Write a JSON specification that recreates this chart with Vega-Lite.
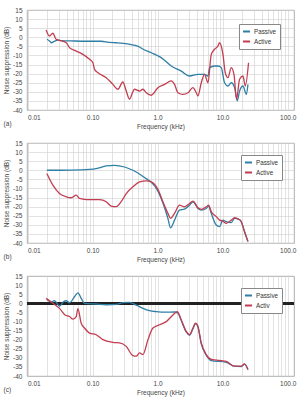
{
  "$schema": "https://vega.github.io/schema/vega-lite/v6.json",
  "background": "white",
  "padding": {"left": 3, "top": 6, "right": 0, "bottom": 0},
  "bounds": "flush",
  "spacing": 33,
  "resolve": {"legend": {"color": "independent"}},
  "config": {
    "font": "Liberation Sans",
    "view": {"stroke": "#999", "strokeWidth": 0.8},
    "axis": {"labelFontSize": 6.5, "titleFontSize": 6.5, "titleFontWeight": "normal", "labelColor": "#444", "titleColor": "#444", "ticks": false, "domain": false, "gridColor": "#cfcfcf", "gridWidth": 0.6, "labelOverlap": false},
    "legend": {"orient": "top-right", "offset": 13, "strokeColor": "#888", "fillColor": "white", "padding": 3, "rowPadding": 1, "symbolType": "stroke", "symbolStrokeWidth": 2, "symbolSize": 49, "labelFontSize": 6.3, "labelColor": "#333", "labelOffset": 3, "title": null},
    "title": {"fontSize": 6.5, "fontWeight": "normal", "color": "#444"}
  },
  "datasets": {
    "a": [
      {"series": "Passive", "f": 0.0198, "v": -1.1},
      {"series": "Passive", "f": 0.0217, "v": -2.0},
      {"series": "Passive", "f": 0.0231, "v": -3.0},
      {"series": "Passive", "f": 0.0259, "v": -2.2},
      {"series": "Passive", "f": 0.0292, "v": -1.5},
      {"series": "Passive", "f": 0.0329, "v": -1.8},
      {"series": "Passive", "f": 0.0469, "v": -2.0},
      {"series": "Passive", "f": 0.0797, "v": -2.2},
      {"series": "Passive", "f": 0.1355, "v": -2.2},
      {"series": "Passive", "f": 0.180, "v": -2.8},
      {"series": "Passive", "f": 0.231, "v": -3.0},
      {"series": "Passive", "f": 0.296, "v": -3.3},
      {"series": "Passive", "f": 0.393, "v": -4.0},
      {"series": "Passive", "f": 0.503, "v": -5.0},
      {"series": "Passive", "f": 0.600, "v": -6.6},
      {"series": "Passive", "f": 0.797, "v": -8.5},
      {"series": "Passive", "f": 1.136, "v": -11.2},
      {"series": "Passive", "f": 1.618, "v": -15.8},
      {"series": "Passive", "f": 2.307, "v": -18.6},
      {"series": "Passive", "f": 3.097, "v": -21.3},
      {"series": "Passive", "f": 4.169, "v": -20.4},
      {"series": "Passive", "f": 5.27, "v": -20.4},
      {"series": "Passive", "f": 5.94, "v": -21.3},
      {"series": "Passive", "f": 6.29, "v": -16.7},
      {"series": "Passive", "f": 7.50, "v": -15.8},
      {"series": "Passive", "f": 8.47, "v": -15.8},
      {"series": "Passive", "f": 9.51, "v": -16.7},
      {"series": "Passive", "f": 10.7, "v": -25.0},
      {"series": "Passive", "f": 12.07, "v": -26.8},
      {"series": "Passive", "f": 13.56, "v": -25.0},
      {"series": "Passive", "f": 15.25, "v": -27.7},
      {"series": "Passive", "f": 16.78, "v": -35.0},
      {"series": "Passive", "f": 18.2, "v": -29.6},
      {"series": "Passive", "f": 20.5, "v": -26.8},
      {"series": "Passive", "f": 23.1, "v": -31.4},
      {"series": "Passive", "f": 24.5, "v": -25.9},
      {"series": "Active", "f": 0.0193, "v": 4.0},
      {"series": "Active", "f": 0.0217, "v": 0.7},
      {"series": "Active", "f": 0.0245, "v": 2.2},
      {"series": "Active", "f": 0.0275, "v": -1.1},
      {"series": "Active", "f": 0.0310, "v": -1.7},
      {"series": "Active", "f": 0.0393, "v": -3.0},
      {"series": "Active", "f": 0.0441, "v": -5.7},
      {"series": "Active", "f": 0.0560, "v": -7.6},
      {"series": "Active", "f": 0.0709, "v": -9.4},
      {"series": "Active", "f": 0.0896, "v": -12.1},
      {"series": "Active", "f": 0.101, "v": -14.0},
      {"series": "Active", "f": 0.107, "v": -17.6},
      {"series": "Active", "f": 0.121, "v": -19.5},
      {"series": "Active", "f": 0.162, "v": -22.2},
      {"series": "Active", "f": 0.205, "v": -25.9},
      {"series": "Active", "f": 0.245, "v": -28.6},
      {"series": "Active", "f": 0.292, "v": -24.6},
      {"series": "Active", "f": 0.329, "v": -29.6},
      {"series": "Active", "f": 0.370, "v": -34.1},
      {"series": "Active", "f": 0.407, "v": -30.8},
      {"series": "Active", "f": 0.441, "v": -28.6},
      {"series": "Active", "f": 0.527, "v": -29.6},
      {"series": "Active", "f": 0.594, "v": -28.6},
      {"series": "Active", "f": 0.668, "v": -30.5},
      {"series": "Active", "f": 0.797, "v": -31.9},
      {"series": "Active", "f": 1.01, "v": -27.7},
      {"series": "Active", "f": 1.277, "v": -25.9},
      {"series": "Active", "f": 1.618, "v": -24.0},
      {"series": "Active", "f": 1.820, "v": -25.9},
      {"series": "Active", "f": 2.052, "v": -30.5},
      {"series": "Active", "f": 2.449, "v": -31.4},
      {"series": "Active", "f": 2.926, "v": -30.5},
      {"series": "Active", "f": 3.493, "v": -27.7},
      {"series": "Active", "f": 3.925, "v": -30.5},
      {"series": "Active", "f": 4.169, "v": -32.3},
      {"series": "Active", "f": 4.688, "v": -25.0},
      {"series": "Active", "f": 5.27, "v": -20.4},
      {"series": "Active", "f": 5.94, "v": -25.0},
      {"series": "Active", "f": 6.68, "v": -9.4},
      {"series": "Active", "f": 7.50, "v": -6.6},
      {"series": "Active", "f": 8.47, "v": -4.8},
      {"series": "Active", "f": 8.96, "v": -3.0},
      {"series": "Active", "f": 10.1, "v": -9.4},
      {"series": "Active", "f": 10.96, "v": -19.5},
      {"series": "Active", "f": 12.07, "v": -22.2},
      {"series": "Active", "f": 13.56, "v": -16.7},
      {"series": "Active", "f": 14.92, "v": -20.4},
      {"series": "Active", "f": 16.36, "v": -34.1},
      {"series": "Active", "f": 18.2, "v": -23.1},
      {"series": "Active", "f": 20.5, "v": -21.3},
      {"series": "Active", "f": 22.28, "v": -26.8},
      {"series": "Active", "f": 25.0, "v": -14.0}
    ],
    "b": [
      {"series": "Passive", "f": 0.0198, "v": 0.0},
      {"series": "Passive", "f": 0.0329, "v": 0.0},
      {"series": "Passive", "f": 0.0668, "v": 0.2},
      {"series": "Passive", "f": 0.1136, "v": 0.9},
      {"series": "Passive", "f": 0.162, "v": 2.4},
      {"series": "Passive", "f": 0.217, "v": 2.7},
      {"series": "Passive", "f": 0.310, "v": 1.8},
      {"series": "Passive", "f": 0.417, "v": 0.0},
      {"series": "Passive", "f": 0.560, "v": -2.7},
      {"series": "Passive", "f": 0.668, "v": -4.6},
      {"series": "Passive", "f": 0.797, "v": -6.5},
      {"series": "Passive", "f": 1.01, "v": -11.5},
      {"series": "Passive", "f": 1.206, "v": -18.0},
      {"series": "Passive", "f": 1.44, "v": -26.5},
      {"series": "Passive", "f": 1.578, "v": -31.6},
      {"series": "Passive", "f": 1.82, "v": -27.4},
      {"series": "Passive", "f": 2.173, "v": -21.9},
      {"series": "Passive", "f": 2.593, "v": -21.4},
      {"series": "Passive", "f": 3.097, "v": -19.2},
      {"series": "Passive", "f": 3.493, "v": -17.3},
      {"series": "Passive", "f": 4.169, "v": -21.0},
      {"series": "Passive", "f": 4.688, "v": -21.9},
      {"series": "Passive", "f": 5.59, "v": -21.0},
      {"series": "Passive", "f": 6.07, "v": -19.7},
      {"series": "Passive", "f": 6.68, "v": -23.7},
      {"series": "Passive", "f": 7.97, "v": -30.1},
      {"series": "Passive", "f": 8.96, "v": -31.0},
      {"series": "Passive", "f": 10.1, "v": -27.4},
      {"series": "Passive", "f": 11.36, "v": -28.3},
      {"series": "Passive", "f": 13.56, "v": -28.8},
      {"series": "Passive", "f": 15.25, "v": -26.5},
      {"series": "Passive", "f": 17.57, "v": -26.9},
      {"series": "Passive", "f": 19.32, "v": -28.3},
      {"series": "Passive", "f": 21.7, "v": -33.8},
      {"series": "Passive", "f": 24.5, "v": -39.2},
      {"series": "Active", "f": 0.0198, "v": -1.8},
      {"series": "Active", "f": 0.0245, "v": -8.2},
      {"series": "Active", "f": 0.0310, "v": -12.8},
      {"series": "Active", "f": 0.0393, "v": -14.6},
      {"series": "Active", "f": 0.0469, "v": -15.1},
      {"series": "Active", "f": 0.0560, "v": -13.7},
      {"series": "Active", "f": 0.0629, "v": -15.5},
      {"series": "Active", "f": 0.0797, "v": -16.1},
      {"series": "Active", "f": 0.1277, "v": -16.1},
      {"series": "Active", "f": 0.162, "v": -17.3},
      {"series": "Active", "f": 0.193, "v": -19.7},
      {"series": "Active", "f": 0.231, "v": -20.0},
      {"series": "Active", "f": 0.275, "v": -17.3},
      {"series": "Active", "f": 0.329, "v": -12.8},
      {"series": "Active", "f": 0.417, "v": -9.1},
      {"series": "Active", "f": 0.527, "v": -6.4},
      {"series": "Active", "f": 0.668, "v": -5.8},
      {"series": "Active", "f": 0.797, "v": -6.4},
      {"series": "Active", "f": 1.01, "v": -10.5},
      {"series": "Active", "f": 1.206, "v": -17.3},
      {"series": "Active", "f": 1.44, "v": -23.7},
      {"series": "Active", "f": 1.578, "v": -26.5},
      {"series": "Active", "f": 1.82, "v": -23.7},
      {"series": "Active", "f": 2.173, "v": -19.2},
      {"series": "Active", "f": 2.593, "v": -20.1},
      {"series": "Active", "f": 3.097, "v": -18.3},
      {"series": "Active", "f": 3.493, "v": -17.0},
      {"series": "Active", "f": 4.169, "v": -20.6},
      {"series": "Active", "f": 4.688, "v": -21.5},
      {"series": "Active", "f": 5.59, "v": -20.1},
      {"series": "Active", "f": 6.07, "v": -19.2},
      {"series": "Active", "f": 6.68, "v": -22.8},
      {"series": "Active", "f": 7.97, "v": -25.5},
      {"series": "Active", "f": 8.96, "v": -27.4},
      {"series": "Active", "f": 10.1, "v": -28.0},
      {"series": "Active", "f": 11.36, "v": -29.2},
      {"series": "Active", "f": 13.56, "v": -27.4},
      {"series": "Active", "f": 15.25, "v": -26.1},
      {"series": "Active", "f": 17.57, "v": -26.9},
      {"series": "Active", "f": 19.32, "v": -28.3},
      {"series": "Active", "f": 21.7, "v": -33.8},
      {"series": "Active", "f": 24.5, "v": -39.2}
    ],
    "c": [
      {"series": "Passive", "f": 0.0198, "v": 2.1},
      {"series": "Passive", "f": 0.0231, "v": 0.8},
      {"series": "Passive", "f": 0.0259, "v": 1.4},
      {"series": "Passive", "f": 0.0310, "v": -1.5},
      {"series": "Passive", "f": 0.0356, "v": 0.8},
      {"series": "Passive", "f": 0.0393, "v": 1.4},
      {"series": "Passive", "f": 0.0441, "v": 0.3},
      {"series": "Passive", "f": 0.0527, "v": 3.6},
      {"series": "Passive", "f": 0.0594, "v": 5.7},
      {"series": "Passive", "f": 0.0668, "v": 2.7},
      {"series": "Passive", "f": 0.0750, "v": 0.0},
      {"series": "Passive", "f": 0.1136, "v": -0.4},
      {"series": "Passive", "f": 0.162, "v": -0.8},
      {"series": "Passive", "f": 0.231, "v": -0.6},
      {"series": "Passive", "f": 0.292, "v": 0.3},
      {"series": "Passive", "f": 0.370, "v": 0.5},
      {"series": "Passive", "f": 0.469, "v": -1.0},
      {"series": "Passive", "f": 0.594, "v": -2.8},
      {"series": "Passive", "f": 0.750, "v": -4.1},
      {"series": "Passive", "f": 0.952, "v": -4.6},
      {"series": "Passive", "f": 1.356, "v": -4.9},
      {"series": "Passive", "f": 1.82, "v": -4.8},
      {"series": "Passive", "f": 2.052, "v": -5.5},
      {"series": "Passive", "f": 2.307, "v": -9.5},
      {"series": "Passive", "f": 2.754, "v": -15.8},
      {"series": "Passive", "f": 3.097, "v": -17.6},
      {"series": "Passive", "f": 3.493, "v": -14.0},
      {"series": "Passive", "f": 3.83, "v": -11.2},
      {"series": "Passive", "f": 4.169, "v": -13.0},
      {"series": "Passive", "f": 4.688, "v": -22.3},
      {"series": "Passive", "f": 5.59, "v": -28.5},
      {"series": "Passive", "f": 6.68, "v": -31.5},
      {"series": "Passive", "f": 11.36, "v": -32.5},
      {"series": "Passive", "f": 15.07, "v": -34.6},
      {"series": "Passive", "f": 19.32, "v": -34.8},
      {"series": "Passive", "f": 21.7, "v": -33.5},
      {"series": "Passive", "f": 24.5, "v": -36.6},
      {"series": "Active", "f": 0.0193, "v": 2.7},
      {"series": "Active", "f": 0.0245, "v": 0.0},
      {"series": "Active", "f": 0.0310, "v": -2.8},
      {"series": "Active", "f": 0.0377, "v": -6.4},
      {"series": "Active", "f": 0.0441, "v": -7.3},
      {"series": "Active", "f": 0.0498, "v": -8.7},
      {"series": "Active", "f": 0.0560, "v": -7.3},
      {"series": "Active", "f": 0.0594, "v": -3.0},
      {"series": "Active", "f": 0.0668, "v": -11.0},
      {"series": "Active", "f": 0.0750, "v": -13.6},
      {"series": "Active", "f": 0.0896, "v": -16.4},
      {"series": "Active", "f": 0.1136, "v": -17.3},
      {"series": "Active", "f": 0.144, "v": -20.0},
      {"series": "Active", "f": 0.205, "v": -21.5},
      {"series": "Active", "f": 0.259, "v": -21.8},
      {"series": "Active", "f": 0.329, "v": -23.7},
      {"series": "Active", "f": 0.417, "v": -28.8},
      {"series": "Active", "f": 0.469, "v": -29.1},
      {"series": "Active", "f": 0.527, "v": -27.3},
      {"series": "Active", "f": 0.594, "v": -28.2},
      {"series": "Active", "f": 0.710, "v": -20.0},
      {"series": "Active", "f": 0.847, "v": -13.6},
      {"series": "Active", "f": 1.07, "v": -11.8},
      {"series": "Active", "f": 1.356, "v": -10.1},
      {"series": "Active", "f": 1.719, "v": -6.4},
      {"series": "Active", "f": 2.002, "v": -4.6},
      {"series": "Active", "f": 2.307, "v": -9.1},
      {"series": "Active", "f": 2.754, "v": -15.5},
      {"series": "Active", "f": 3.097, "v": -17.3},
      {"series": "Active", "f": 3.493, "v": -13.6},
      {"series": "Active", "f": 3.83, "v": -10.9},
      {"series": "Active", "f": 4.169, "v": -12.7},
      {"series": "Active", "f": 4.688, "v": -21.8},
      {"series": "Active", "f": 5.59, "v": -28.2},
      {"series": "Active", "f": 6.68, "v": -30.9},
      {"series": "Active", "f": 11.36, "v": -32.0},
      {"series": "Active", "f": 15.07, "v": -34.6},
      {"series": "Active", "f": 19.32, "v": -34.6},
      {"series": "Active", "f": 21.7, "v": -33.3},
      {"series": "Active", "f": 24.5, "v": -36.4}
    ]
  },
  "vconcat": [
    {
      "width": 267, "height": 100,
      "data": {"name": "a"},
      "title": {"text": "(a)", "orient": "bottom", "anchor": "start", "frame": "bounds", "offset": -9},
      "mark": {"type": "line", "interpolate": "monotone", "strokeWidth": 1.3},
      "encoding": {
        "x": {"field": "f", "type": "quantitative", "title": "Frequency (kHz)",
          "scale": {"type": "log", "domain": [0.0098, 125], "nice": false},
          "axis": {"values": [0.01,0.02,0.03,0.04,0.05,0.06,0.07,0.08,0.09,0.1,0.2,0.3,0.4,0.5,0.6,0.7,0.8,0.9,1,2,3,4,5,6,7,8,9,10,20,30,40,50,60,70,80,90,100],
            "labelExpr": "datum.value == 0.01 ? '0.01' : datum.value == 0.1 ? '0.10' : datum.value == 1 ? '1.0' : datum.value == 10 ? '10.0' : datum.value == 100 ? '100.0' : ''",
            "labelPadding": 4, "titlePadding": 3}},
        "y": {"field": "v", "type": "quantitative", "title": "Noise suppression (dB)",
          "scale": {"domain": [-40, 15], "nice": false},
          "axis": {"values": [-40,-35,-30,-25,-20,-15,-10,-5,0,5,10,15], "labelExpr": "'' + datum.value", "labelPadding": 5, "titlePadding": 3}},
        "color": {"field": "series", "type": "nominal", "sort": ["Passive", "Active"],
          "scale": {"domain": ["Passive", "Active"], "range": ["#2f7ea6", "#c23d4f"]},
          "legend": {"offset": 14}}
      }
    },
    {
      "width": 267, "height": 100,
      "data": {"name": "b"},
      "title": {"text": "(b)", "orient": "bottom", "anchor": "start", "frame": "bounds", "offset": -9},
      "mark": {"type": "line", "interpolate": "monotone", "strokeWidth": 1.3},
      "encoding": {
        "x": {"field": "f", "type": "quantitative", "title": "Frequency (kHz)",
          "scale": {"type": "log", "domain": [0.0098, 125], "nice": false},
          "axis": {"values": [0.01,0.02,0.03,0.04,0.05,0.06,0.07,0.08,0.09,0.1,0.2,0.3,0.4,0.5,0.6,0.7,0.8,0.9,1,2,3,4,5,6,7,8,9,10,20,30,40,50,60,70,80,90,100],
            "labelExpr": "datum.value == 0.01 ? '0.01' : datum.value == 0.1 ? '0.10' : datum.value == 1 ? '1.0' : datum.value == 10 ? '10.0' : datum.value == 100 ? '100.0' : ''",
            "labelPadding": 4, "titlePadding": 3}},
        "y": {"field": "v", "type": "quantitative", "title": "Noise suppression (dB)",
          "scale": {"domain": [-40, 15], "nice": false},
          "axis": {"values": [-40,-35,-30,-25,-20,-15,-10,-5,0,5,10,15], "labelExpr": "'' + datum.value", "labelPadding": 5, "titlePadding": 3}},
        "color": {"field": "series", "type": "nominal", "sort": ["Passive", "Active"],
          "scale": {"domain": ["Passive", "Active"], "range": ["#2f7ea6", "#c23d4f"]},
          "legend": {"offset": 12}}
      }
    },
    {
      "width": 267, "height": 100,
      "data": {"name": "c"},
      "title": {"text": "(c)", "orient": "bottom", "anchor": "start", "frame": "bounds", "offset": -9},
      "layer": [
        {
          "mark": {"type": "rule", "color": "#222", "strokeWidth": 2},
          "encoding": {"y": {"datum": 0, "type": "quantitative", "title": "Noise suppression (dB)",
            "scale": {"domain": [-40, 15], "nice": false},
            "axis": {"values": [-40,-35,-30,-25,-20,-15,-10,-5,0,5,10,15], "labelExpr": "'' + datum.value", "labelPadding": 5, "titlePadding": 3}}}
        },
        {
          "mark": {"type": "line", "interpolate": "monotone", "strokeWidth": 1.3},
          "encoding": {
            "x": {"field": "f", "type": "quantitative", "title": "Frequency (kHz)",
              "scale": {"type": "log", "domain": [0.0098, 125], "nice": false},
              "axis": {"values": [0.01,0.02,0.03,0.04,0.05,0.06,0.07,0.08,0.09,0.1,0.2,0.3,0.4,0.5,0.6,0.7,0.8,0.9,1,2,3,4,5,6,7,8,9,10,20,30,40,50,60,70,80,90,100],
                "labelExpr": "datum.value == 0.01 ? '0.01' : datum.value == 0.1 ? '0.10' : datum.value == 1 ? '1.0' : datum.value == 10 ? '10.0' : datum.value == 100 ? '100.0' : ''",
                "labelPadding": 4, "titlePadding": 3}},
            "y": {"field": "v", "type": "quantitative", "title": "Noise suppression (dB)",
              "scale": {"domain": [-40, 15], "nice": false},
              "axis": {"values": [-40,-35,-30,-25,-20,-15,-10,-5,0,5,10,15], "labelExpr": "'' + datum.value", "labelPadding": 5, "titlePadding": 3}},
            "color": {"field": "series", "type": "nominal", "sort": ["Passive", "Active"],
              "scale": {"domain": ["Passive", "Active"], "range": ["#2f7ea6", "#c23d4f"]},
              "legend": {"offset": 12, "labelExpr": "datum.label == 'Active' ? 'Activ' : datum.label"}}
          }
        }
      ]
    }
  ]
}
